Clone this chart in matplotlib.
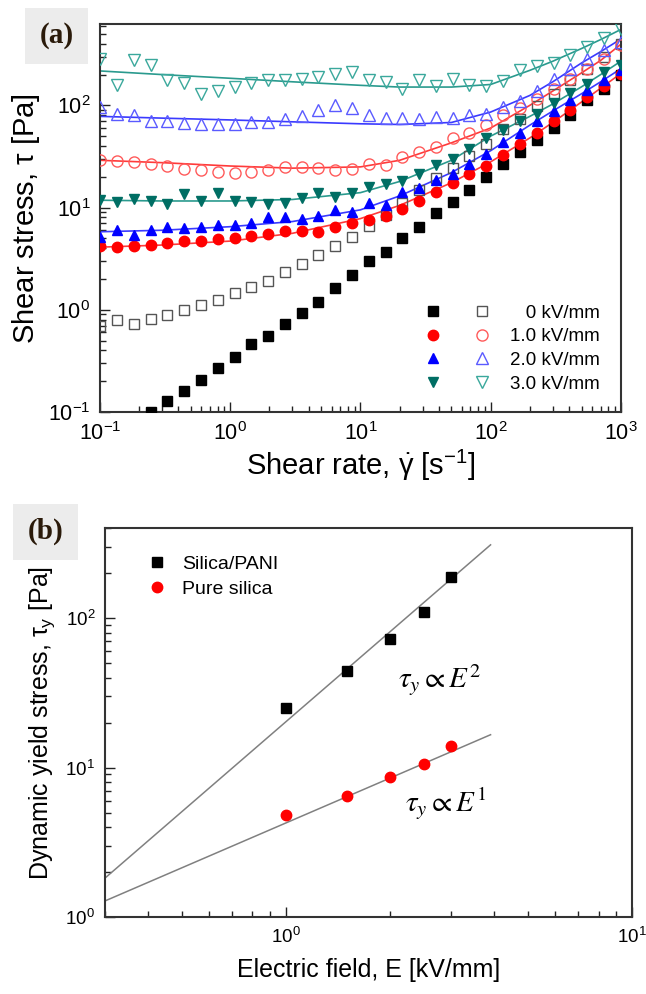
import numpy as np
import matplotlib
matplotlib.use("Agg")
import matplotlib.pyplot as plt
from matplotlib.legend_handler import HandlerTuple
from matplotlib.ticker import LogLocator, NullFormatter

# Fonts
plt.rcParams['font.family'] = ['Liberation Sans', 'DejaVu Sans']
plt.rcParams['mathtext.fontset'] = 'custom'
plt.rcParams['mathtext.rm'] = 'Liberation Sans'
plt.rcParams['mathtext.it'] = 'Liberation Sans'
plt.rcParams['mathtext.bf'] = 'Liberation Sans:bold'

# ---- Data, panel (a): shear stress vs shear rate ----
shear_rate = [0.1, 0.135, 0.181, 0.244, 0.328, 0.441, 0.594, 0.80, 1.08, 1.45,
              1.95, 2.62, 3.53, 4.75, 6.39, 8.6, 11.6, 15.6, 21.0, 28.2,
              38.0, 51.1, 68.8, 92.6, 125, 168, 226, 305, 410, 552, 743, 1000]

# filled = silica/PANI, open = pure silica
tau_0_filled = [0.10, 0.128, 0.161, 0.205, 0.272, 0.346, 0.46, 0.56, 0.72, 0.94,
                1.2, 1.62, 2.2, 2.98, 3.65, 5.05, 6.4, 8.8, 11.3, 14.9,
                19.8, 26.4, 34.8, 46, 60, 80, 112, 146, 197]   # from 4th rate on
tau_0_open = [0.70, 0.79, 0.73, 0.81, 0.89, 0.99, 1.12, 1.25, 1.45, 1.66,
              1.92, 2.32, 2.8, 3.46, 4.2, 5.1, 6.6, 8.4, 11.0, 14.8,
              19.5, 24.5, 31.6, 41.5, 59, 74, 98, 130, 176, 229, 294, 398]
tau_1_filled = [4.24, 4.15, 4.24, 4.34, 4.47, 4.75, 4.75, 4.93, 5.05, 5.24,
                5.53, 5.95, 5.95, 5.73, 6.4, 7.0, 7.6, 8.3, 9.6, 11.7,
                14.1, 17.3, 21.1, 25.4, 32.4, 41.5, 53.5, 70, 91, 120, 155, 204]
tau_1_open = [28.9, 28.5, 27.8, 26.8, 25.4, 23.9, 23.1, 22.2, 21.7, 22.4,
              23.2, 24.7, 24.8, 24.2, 23.1, 23.9, 26.8, 25.8, 31.1, 34.8,
              39, 48, 53.5, 64, 80, 94, 116, 146, 182, 229, 287, 388]
tau_2_filled = [5.1, 6.0, 5.4, 6.1, 6.4, 6.3, 6.4, 6.7, 6.8, 7.0,
                8.0, 8.0, 7.7, 8.35, 9.4, 9.0, 11.0, 10.7, 14.1, 15.5,
                18.6, 21.4, 26.4, 33.6, 43.6, 54, 71, 89, 112, 140, 176, 220]
tau_2_open = [96, 83, 81, 70, 70, 67, 65, 65, 65, 68,
              69, 73, 78, 91, 100, 95, 80, 76, 76, 73,
              77, 76, 80, 83, 97, 110, 138, 182, 229, 287, 346, 417]
tau_3_filled = [11.9, 11.3, 12.2, 11.7, 10.9, 13.6, 11.5, 13.8, 11.5, 11.4,
                10.8, 11.2, 12.3, 13.8, 12.6, 13.8, 15.8, 17.1, 18.1, 21.4,
                25.8, 30, 37.6, 48, 58, 70, 83, 105, 132, 163, 212, 250]
tau_3_open = [287, 157, 276, 247, 176, 166, 128, 138, 152, 165,
              178, 178, 181, 190, 203, 212, 176, 168, 145, 176,
              155, 180, 159, 156, 173, 220, 243, 260, 309, 372, 459, 563]

fit_rate = [0.1, 0.3, 1, 3, 10, 20, 50, 100, 200, 300, 500, 700, 1000]
fit_1_filled = [4.1, 4.3, 4.7, 5.6, 7.8, 10.5, 17.5, 28, 48, 68, 108, 147, 205]
fit_2_filled = [5.8, 6.0, 6.5, 7.3, 9.5, 13, 22, 36, 64, 88, 130, 170, 228]
fit_3_filled = [11.8, 11.6, 11.6, 12, 14, 18, 29, 50, 78, 103, 152, 200, 270]
fit_1_open = [29, 27.5, 25.5, 24.3, 25, 29, 43, 60, 100, 138, 208, 275, 395]
fit_2_open = [78, 75, 72, 69, 66, 65, 68, 86, 125, 170, 260, 335, 445]
fit_3_open = [217, 200, 184, 170, 157, 151, 151, 160, 220, 270, 360, 440, 552]

field_labels = ['0 kV/mm', '1.0 kV/mm', '2.0 kV/mm', '3.0 kV/mm']

# ---- Data, panel (b): yield stress vs electric field ----
E_field = [1.0, 1.5, 2.0, 2.5, 3.0]
tau_y_pani = [25.1, 44.4, 72.4, 109.6, 187.6]
tau_y_silica = [4.8, 6.5, 8.7, 10.6, 14.0]
tau_y_silica_err = [0.2, 0.2, 0.3, 0.3, 1.0]
fit_E = [0.3, 3.9]
fit_pani = [1.82, 310]
fit_silica = [1.28, 16.6]

fig = plt.figure(figsize=(6.46, 9.94), dpi=100)
ax1 = fig.add_axes([0.155, 0.5855, 0.806, 0.390])
ax2 = fig.add_axes([0.1625, 0.0775, 0.816, 0.391])

# ---- panel (a) ----
c_fill = ['black', '#ff0000', '#0000ff', '#006e64']
c_open = ['#555555', '#ff5a5a', '#5a5aff', '#3aa89c']
c_line = ['#ff3a3a', '#3a3aff', '#2a9a8e']
mk_fill = ['s', 'o', '^', 'v']

filled = [tau_0_filled, tau_1_filled, tau_2_filled, tau_3_filled]
opened = [tau_0_open, tau_1_open, tau_2_open, tau_3_open]
fits_f = [fit_1_filled, fit_2_filled, fit_3_filled]
fits_o = [fit_1_open, fit_2_open, fit_3_open]

for i in range(3):
    ax1.plot(fit_rate, fits_f[i], '-', color=c_line[i], lw=1.2, zorder=2)
    ax1.plot(fit_rate, fits_o[i], '-', color=c_line[i], lw=1.2, zorder=2)

handles = []
for i in range(4):
    x = shear_rate[3:] if i == 0 else shear_rate
    ms = 6.5 if mk_fill[i] == 's' else 7.5
    hf, = ax1.plot(x, filled[i], linestyle='none', marker=mk_fill[i], ms=ms,
                   color=c_fill[i], mec=c_fill[i], zorder=3)
    ho, = ax1.plot(shear_rate, opened[i], linestyle='none', marker=mk_fill[i],
                   ms=ms + 0.5, mfc='none', mec=c_open[i], mew=1.0, zorder=3)
    handles.append((hf, ho))

ax1.set_xscale('log')
ax1.set_yscale('log')
ax1.set_xlim(0.1, 1000)
ax1.set_ylim(0.1, 620)
ax1.set_xlabel(r'Shear rate, $\dot{\gamma}$ [s$^{-1}$]', fontsize=21, labelpad=2)
ax1.set_ylabel(r'Shear stress, $\tau$ [Pa]', fontsize=21, labelpad=4)

labels = ['   ' + field_labels[0]] + field_labels[1:]
ax1.legend(handles, labels, handler_map={tuple: HandlerTuple(ndivide=None, pad=1.6)},
           loc='lower right', bbox_to_anchor=(0.96, 0.05), frameon=False,
           fontsize=13.5, handlelength=3.6, handletextpad=1.0, labelspacing=0.35,
           borderaxespad=0, borderpad=0)

# ---- panel (b) ----
ax2.plot(fit_E, fit_pani, '-', color='#808080', lw=1.1)
ax2.plot(fit_E, fit_silica, '-', color='#808080', lw=1.1)
ax2.errorbar(E_field, tau_y_silica, yerr=tau_y_silica_err, fmt='none',
             ecolor='#ff0000', elinewidth=1, capsize=0, zorder=3)
ax2.plot(E_field, tau_y_pani, linestyle='none', marker='s', ms=6.5, color='black',
         label='Silica/PANI', zorder=3)
ax2.plot(E_field, tau_y_silica, linestyle='none', marker='o', ms=7.5, color='#ff0000',
         label='Pure silica', zorder=3)
ax2.set_xscale('log')
ax2.set_yscale('log')
ax2.set_xlim(0.3, 10)
ax2.set_ylim(1, 400)
ax2.set_xlabel('Electric field, E [kV/mm]', fontsize=18, labelpad=8)
ax2.set_ylabel(r'Dynamic yield stress, $\tau_y$ [Pa]', fontsize=18, labelpad=6)
ax2.legend(loc='upper left', bbox_to_anchor=(0.08, 0.93), frameon=False, fontsize=14,
           handlelength=1.0, handletextpad=0.8, labelspacing=0.35,
           borderaxespad=0, borderpad=0)

ax2.text(0.555, 0.61, r'$\tau_y \propto E^2$', transform=ax2.transAxes, fontsize=21,
         math_fontfamily='stix', va='center', ha='left')
ax2.text(0.57, 0.29, r'$\tau_y \propto E^1$', transform=ax2.transAxes, fontsize=21,
         math_fontfamily='stix', va='center', ha='left')

for ax, tsize in [(ax1, 15.5), (ax2, 13.5)]:
    ax.xaxis.set_minor_locator(LogLocator(base=10, subs=np.arange(2, 10), numticks=20))
    ax.yaxis.set_minor_locator(LogLocator(base=10, subs=np.arange(2, 10), numticks=20))
    ax.xaxis.set_minor_formatter(NullFormatter())
    ax.yaxis.set_minor_formatter(NullFormatter())
    ax.tick_params(which='both', direction='in', top=False, right=False,
                   labelsize=tsize, width=1.0, color='#222222')
    ax.tick_params(which='major', length=7, pad=7)
    ax.tick_params(which='minor', length=4)
    for s in ax.spines.values():
        s.set_linewidth(1.5)
        s.set_color('#333333')

# panel tags
fig.text(0.088, 0.964, '(a)', fontsize=21, fontweight='bold', family='Liberation Serif',
         color='#2a1a0a', ha='center', va='center',
         bbox=dict(boxstyle='square,pad=0.5', fc='#ececec', ec='none'))
fig.text(0.07, 0.465, '(b)', fontsize=21, fontweight='bold', family='Liberation Serif',
         color='#2a1a0a', ha='center', va='center',
         bbox=dict(boxstyle='square,pad=0.5', fc='#ececec', ec='none'))

fig.savefig('out.png', dpi=100)
